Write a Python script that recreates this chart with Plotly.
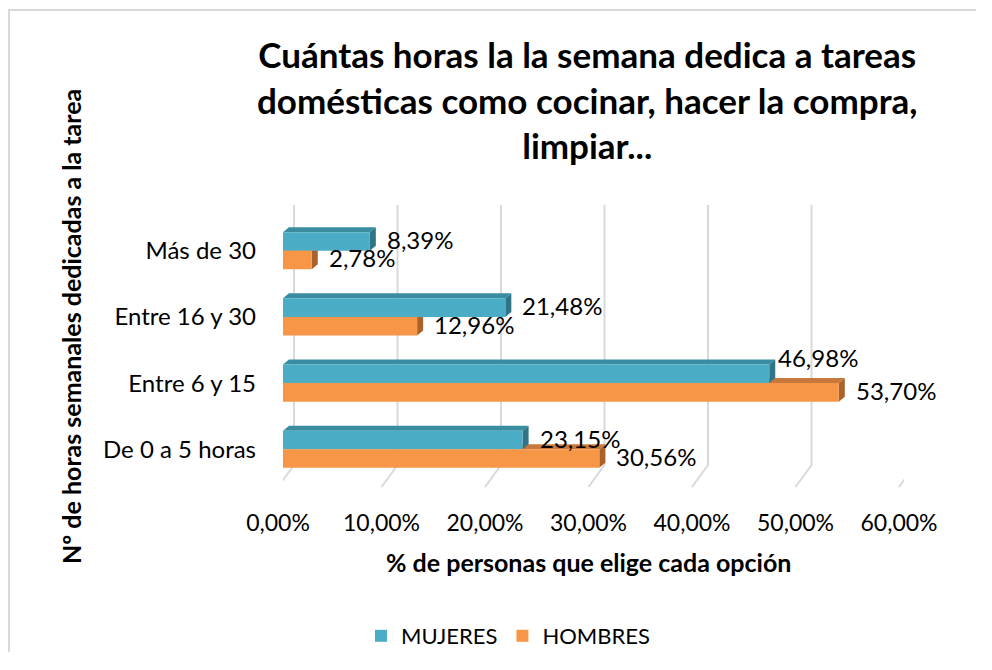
import plotly.graph_objects as go

# ---- data ----
categories = ["De 0 a 5 horas", "Entre 6 y 15", "Entre 16 y 30", "Más de 30"]
mujeres = [23.15, 46.98, 21.48, 8.39]
hombres = [30.56, 53.70, 12.96, 2.78]
x_ticks = [0, 10, 20, 30, 40, 50, 60]
x_tick_labels = ["0,00%", "10,00%", "20,00%", "30,00%", "40,00%", "50,00%", "60,00%"]

title_text = ("<b>Cuántas horas la la semana dedica a tareas<br>"
              "domésticas como cocinar, hacer la compra,<br>limpiar...</b>")
x_title = "<b>% de personas que elige cada opción</b>"
y_title = "<b>Nº de horas semanales dedicadas a la tarea</b>"

# ---- layout geometry / style ----
OFF = 8  # page body margin in the browser
W, H = 968, 644
ML, MT = 283 - OFF, 205 - OFF
MR, MB = W - (904 - OFF), H - (487 - OFF)
PW, PH = W - ML - MR, H - MT - MB
X_RANGE = [0, 60]
Y_RANGE = [-0.5695, -0.5695 + PH / 66.2]
BAR_W = 0.28
DX_PX, DY_PX = 6, 5
FONT = "Lato"

C_MUJ = "#4BACC6"; C_MUJ_TOP = "#3A8CA1"; C_MUJ_SIDE = "#2F7586"
C_HOM = "#F79646"; C_HOM_TOP = "#C8783A"; C_HOM_SIDE = "#A9622B"
GRID = "#D9D9D9"


def paper_x(px):
    return (px - OFF - ML) / PW


def paper_y(py):
    return (H - MB - (py - OFF)) / PH


dx = DX_PX * (X_RANGE[1] - X_RANGE[0]) / PW
dy = DY_PX * (Y_RANGE[1] - Y_RANGE[0]) / PH

fig = go.Figure()
fig.add_trace(go.Bar(name="MUJERES", y=categories, x=mujeres, orientation="h",
                     width=BAR_W, offset=0, marker=dict(color=C_MUJ, line=dict(width=0)),
                     hoverinfo="x+y"))
fig.add_trace(go.Bar(name="HOMBRES", y=categories, x=hombres, orientation="h",
                     width=BAR_W, offset=-BAR_W, marker=dict(color=C_HOM, line=dict(width=0)),
                     hoverinfo="x+y"))

shapes = []
# 3D-ish gridlines (front foot slanting to the back wall)
slant = 22 / PH
for t in x_ticks:
    shapes.append(dict(type="path", xref="x", yref="paper", xsizemode="pixel", xanchor=t,
                       path=f"M -5,0 L 11,{slant} L 11,1", line=dict(color=GRID, width=2),
                       layer="below"))


def faces(vals, base_off, c_top, c_side):
    out = []
    for i, v in enumerate(vals):
        y0 = i + base_off
        y1 = y0 + BAR_W
        out.append(dict(type="path", xref="x", yref="y",
                        path=f"M 0,{y1} L {v},{y1} L {v+dx},{y1+dy} L {dx},{y1+dy} Z",
                        fillcolor=c_top, line=dict(width=0), layer="below"))
        out.append(dict(type="path", xref="x", yref="y",
                        path=f"M {v},{y0} L {v},{y1} L {v+dx},{y1+dy} L {v+dx},{y0+dy} Z",
                        fillcolor=c_side, line=dict(width=0), layer="below"))
    return out


shapes += faces(hombres, -BAR_W, C_HOM_TOP, C_HOM_SIDE)
shapes += faces(mujeres, 0, C_MUJ_TOP, C_MUJ_SIDE)

# chart-area border (left and top edges visible)
bx0 = paper_x(OFF + 1)
by0 = paper_y(10)
bx1 = (W - ML) / PW
shapes.append(dict(type="path", xref="paper", yref="paper",
                   path=f"M {bx0},{-MB / PH} L {bx0},{by0} L {bx1},{by0}",
                   line=dict(color="#D9D9D9", width=2), layer="below"))

annotations = []
label_adjust = {("MUJERES", 1): (-8, 14)}
for name, vals, off in (("MUJERES", mujeres, BAR_W / 2), ("HOMBRES", hombres, -BAR_W / 2)):
    for i, v in enumerate(vals):
        xs, ys = label_adjust.get((name, i), (0, 0))
        annotations.append(dict(x=v, y=i + off, xref="x", yref="y", xanchor="left",
                                yanchor="middle", xshift=15 + xs, yshift=2 + ys,
                                text=f"{v:.2f}%".replace(".", ","), showarrow=False,
                                font=dict(family=FONT, size=24, color="#000000")))
# title
annotations.append(dict(x=paper_x(587), y=paper_y(99), xref="paper", yref="paper",
                        text=title_text, showarrow=False, xanchor="center", yanchor="middle",
                        font=dict(family=FONT, size=35, color="#000000")))
# y-axis title
annotations.append(dict(x=paper_x(71), y=paper_y(327), xref="paper", yref="paper",
                        text=y_title, textangle=-90, showarrow=False,
                        xanchor="center", yanchor="middle",
                        font=dict(family=FONT, size=25, color="#000000")))
# x-axis title
annotations.append(dict(x=paper_x(588), y=paper_y(562), xref="paper", yref="paper",
                        text=x_title, showarrow=False, xanchor="center", yanchor="middle",
                        font=dict(family=FONT, size=25, color="#000000")))

fig.update_layout(
    width=W, height=H,
    margin=dict(l=ML, r=MR, t=MT, b=MB, autoexpand=False),
    paper_bgcolor="white", plot_bgcolor="white",
    barmode="overlay",
    xaxis=dict(range=X_RANGE, tickvals=x_ticks, ticktext=x_tick_labels, showgrid=False,
               zeroline=False, showline=False, ticks="", ticklabelshift=-5,
               ticklabelstandoff=20, tickfont=dict(family=FONT, size=23, color="#000000")),
    yaxis=dict(range=Y_RANGE, type="category", categoryorder="array", categoryarray=categories,
               showgrid=False, zeroline=False, showline=False, ticks="",
               ticklabelstandoff=26, tickfont=dict(family=FONT, size=24, color="#000000")),
    legend=dict(orientation="h", x=paper_x(508), xanchor="center",
                y=paper_y(636), yanchor="middle", traceorder="normal",
                font=dict(family=FONT, size=22, color="#000000"), itemwidth=30),
    shapes=shapes, annotations=annotations,
)

fig.write_html("out.html")
